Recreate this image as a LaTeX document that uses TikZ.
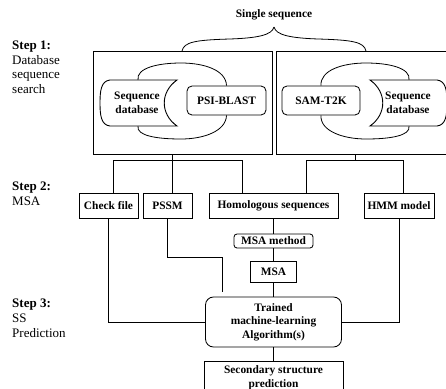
\documentclass[tikz,border=0pt]{standalone}
\usepackage{fontspec}
\setmainfont{Liberation Serif}
\begin{document}
\begin{tikzpicture}[x=1pt,y=-1pt,
  lbl/.style={anchor=north west, align=left, inner sep=0pt, font=\fontsize{13}{14.8}\selectfont},
  bx/.style={draw, line width=0.9pt, inner sep=0pt, font=\fontsize{11.4}{13.5}\selectfont\bfseries, align=center},
  rbx/.style={bx, rounded corners=5pt, line width=0.85pt},
  txt/.style={inner sep=0pt, font=\fontsize{11.4}{13.5}\selectfont\bfseries, align=center},
  ln/.style={line width=0.8pt},
  dbshape/.style={line width=0.9pt, fill=white}]
\clip (0,0) rectangle (446,388);
\fill[white] (0,0) rectangle (446,388);

% labels
\node[lbl] (s1) at (12,40.5) {\textbf{Step 1:}\\Database\\sequence\\search};
\node[lbl] (s2) at (12,181.7) {\textbf{Step 2:}\\MSA};
\node[lbl] (s3) at (12,298.7) {\textbf{Step 3:}\\SS\\Prediction};

% single sequence and brace
\node[txt] (single) at (274,15) {Single sequence};
\coordinate (bl) at (182,51);
\coordinate (br) at (366,51);
\coordinate (bt) at (274,27);
\draw[ln] (bl) .. controls (184,42) and (195,40) .. (230,39) .. controls (258,38) and (272,35) .. (bt);
\draw[ln] (br) .. controls (364,42) and (353,40) .. (318,39) .. controls (290,38) and (276,35) .. (bt);

% step 1 boxes
\node[bx, minimum width=179pt, minimum height=103pt] (box1) at (182.5,102.5) {};
\node[bx, minimum width=194pt, minimum height=103pt] (box2) at (373,102.5) {};

% left search cycle
\node[rbx, minimum width=79pt, minimum height=29pt, fill=white] (psi) at (226.5,100.5) {PSI-BLAST};
\coordinate (d1t) at (138,80);
\coordinate (d1b) at (138,126);
\draw[ln] (d1t) .. controls (136,68) and (158,63) .. (181,63) .. controls (204,63) and (226,70) .. (psi.north);
\draw[ln] (d1b) .. controls (136,136) and (158,139) .. (181,139) .. controls (204,139) and (226,131) .. (psi.south);
\draw[dbshape] (110,80) -- (177,80) .. controls (160,92) and (160,114) .. (177,126) -- (110,126)
  .. controls (101,125) and (100,115) .. (100,103) .. controls (100,91) and (101,81) .. (110,80) -- cycle;
\node[txt] (db1) at (137,103) {Sequence\\database};

% right search cycle
\node[rbx, minimum width=78pt, minimum height=29pt, fill=white] (sam) at (321,100.5) {SAM-T2K};
\coordinate (d2t) at (409,80);
\coordinate (d2b) at (409,126);
\draw[ln] (sam.north) .. controls (320,70) and (343,63) .. (366,63) .. controls (389,63) and (411,68) .. (d2t);
\draw[ln] (sam.south) .. controls (320,131) and (343,139) .. (366,139) .. controls (389,139) and (411,136) .. (d2b);
\draw[dbshape] (437,80) -- (370,80) .. controls (387,92) and (387,114) .. (370,126) -- (437,126)
  .. controls (446,125) and (447,115) .. (447,103) .. controls (447,91) and (446,81) .. (437,80) -- cycle;
\node[txt] (db2) at (408,103) {Sequence\\database};

% step 2 boxes
\node[bx, minimum width=59pt, minimum height=25pt] (check) at (108.5,205.5) {Check file};
\node[bx, minimum width=49pt, minimum height=25pt] (pssm) at (167.5,205.5) {PSSM};
\node[bx, minimum width=129pt, minimum height=25pt] (homo) at (273.5,205.5) {Homologous sequences};
\node[bx, minimum width=70pt, minimum height=25pt] (hmm) at (399,205.5) {HMM model};
\node[rbx, minimum width=79pt, minimum height=14pt, rounded corners=3pt] (msam) at (273.5,241) {MSA method};
\node[bx, minimum width=46pt, minimum height=21pt] (msa) at (273.5,271.5) {MSA};

% step 3
\node[rbx, minimum width=136pt, minimum height=50pt, rounded corners=8pt] (trained) at (273.5,322) {Trained\\machine-learning\\Algorithm(s)};
\node[bx, anchor=north, minimum width=139pt, minimum height=45pt] (sec) at (273.5,361) {};
\node[txt] (sectext) at (273.5,377.5) {Secondary structure\\prediction};

% connectors step1 -> step2
\coordinate (j1) at (172,160);
\coordinate (j1l) at (113,160);
\coordinate (j1r) at (242,160);
\draw[ln] (box1.south -| j1) -- (pssm.north -| j1);
\draw[ln] (check.north -| j1l) -- (j1l) -- (j1r) -- (homo.north -| j1r);
\coordinate (j2) at (355,160);
\coordinate (j2l) at (306,160);
\coordinate (j2r) at (403,160);
\draw[ln] (box2.south -| j2) -- (j2);
\draw[ln] (homo.north -| j2l) -- (j2l) -- (j2r) -- (hmm.north -| j2r);

% MSA chain
\draw[ln] (homo.south) -- (msam.north);
\draw[ln] (msam.south) -- (msa.north);
\draw[ln] (msa.south) -- (trained.north);
\draw[ln] (trained.south) -- (sec.north);

% side inputs
\coordinate (pend) at (222,292);
\draw[ln] (pssm.south) |- (pend |- 0,257) -- (pend);
\draw[ln] (check.south) |- (trained.west);
\draw[ln] (hmm.south) |- (trained.east);
\end{tikzpicture}
\end{document}
